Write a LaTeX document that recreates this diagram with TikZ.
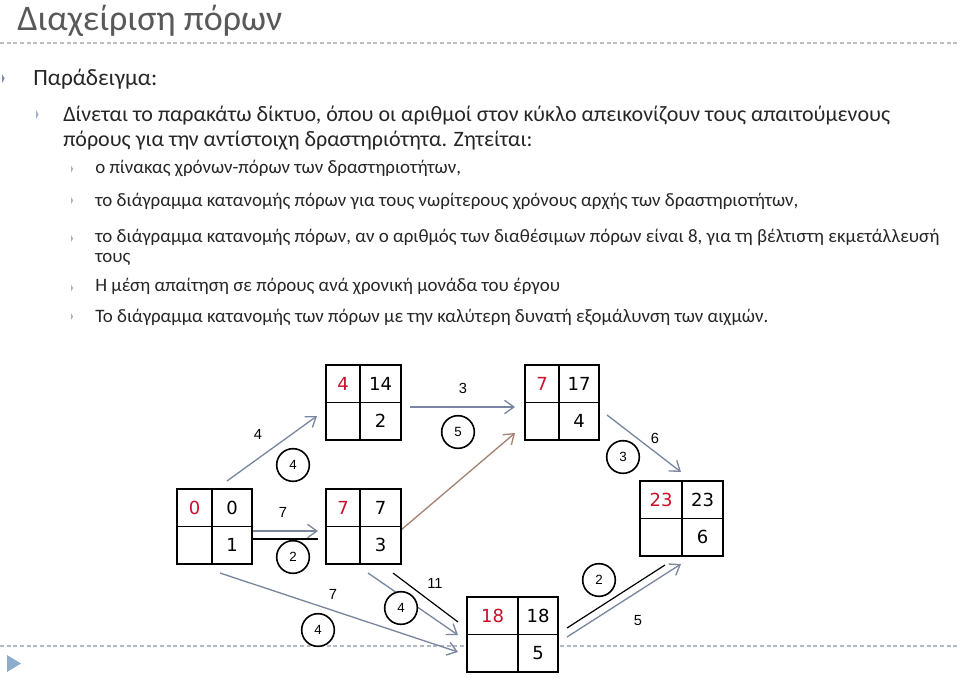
\documentclass[tikz,border=0pt]{standalone}
\usepackage{fontspec}
\setmainfont{Carlito}
\newfontfamily\numfont{DejaVu Sans}
\newfontfamily\lblfont{Liberation Sans}
\usetikzlibrary{arrows.meta}

\definecolor{txtgray}{RGB}{38,38,38}
\definecolor{titlegray}{RGB}{89,89,89}
\definecolor{esred}{RGB}{200,16,40}
\definecolor{arrgray}{RGB}{122,134,160}
\definecolor{arrbrown}{RGB}{165,130,115}
\definecolor{dashgray}{RGB}{190,190,190}
\definecolor{dashblue}{RGB}{178,186,200}
\definecolor{bulone}{RGB}{128,144,176}
\definecolor{bultwo}{RGB}{165,178,204}
\definecolor{bulthree}{RGB}{176,176,176}
\definecolor{navblue}{RGB}{140,172,206}

\tikzset{
  cell/.style={draw, line width=1.1pt, fill=white, inner sep=0pt, outer sep=0pt,
    minimum height=37.5*0.75pt, anchor=north west, font=\numfont\fontsize{13.5}{15}\selectfont},
  res/.style={circle, draw, line width=1.2pt, fill=white, inner sep=0pt,
    minimum size=24.5pt, font=\lblfont\fontsize{10}{11}\selectfont},
  lbl/.style={font=\lblfont\fontsize{11}{12}\selectfont},
  arr/.style={arrgray, line width=1pt, -{Straight Barb[length=7pt,width=10pt]}},
  tie/.style={black, line width=0.9pt},
  txt/.style={anchor=base west, inner sep=0pt, text=txtgray},
}

\newcommand{\actbox}[8]{%
  \node[cell, minimum width=#4*0.75pt] (#1es) at (#2,#3) {\textcolor{esred}{#6}};
  \node[cell, minimum width=#5*0.75pt] (#1ls) at (#1es.north east) {#7};
  \node[cell, minimum width=#4*0.75pt] (#1fl) at (#1es.south west) {};
  \node[cell, minimum width=#5*0.75pt] (#1d) at (#1es.south east) {#8};
}
\newcommand{\bul}[4]{\fill[#1] (#2,#3-#4) -- (#2+0.6*#4,#3) -- (#2,#3+#4) -- cycle;}

\begin{document}
\begin{tikzpicture}[x=0.75pt, y=-0.75pt]
\useasboundingbox (0,0) rectangle (960,678);

\node[txt, text=titlegray, font=\fontsize{27}{30}\selectfont] (title) at (17,31) {Διαχείριση πόρων};
\draw[dashgray, line width=1.2pt, dash pattern=on 3pt off 2pt] (0,42.7) -- (960,42.7);

\bul{bulone}{2}{78.5}{4.5}
\node[txt, font=\fontsize{17.5}{20}\selectfont] (ex) at (33,85) {Παράδειγμα:};

\bul{bultwo}{36}{114.5}{4.5}
\node[txt, font=\fontsize{16.5}{20}\selectfont] (given1) at (63,121) {Δίνεται το παρακάτω δίκτυο, όπου οι αριθμοί στον κύκλο απεικονίζουν τους απαιτούμενους};
\node[txt, font=\fontsize{16.5}{20}\selectfont] (given2) at (63,146) {πόρους για την αντίστοιχη δραστηριότητα. Ζητείται:};

\bul{bulthree}{71}{169}{3.5}
\node[txt, font=\fontsize{14.2}{17}\selectfont] (q1) at (95,173) {ο πίνακας χρόνων-πόρων των δραστηριοτήτων,};
\bul{bulthree}{71}{200.5}{3.5}
\node[txt, font=\fontsize{14.2}{17}\selectfont] (q2) at (95,206) {το διάγραμμα κατανομής πόρων για τους νωρίτερους χρόνους αρχής των δραστηριοτήτων,};
\bul{bulthree}{71}{238.5}{3.5}
\node[txt, font=\fontsize{14.2}{17}\selectfont] (q3) at (95,242) {το διάγραμμα κατανομής πόρων, αν ο αριθμός των διαθέσιμων πόρων είναι 8, για τη βέλτιστη εκμετάλλευσή};
\node[txt, font=\fontsize{14.2}{17}\selectfont] (q3b) at (95,262) {τους};
\bul{bulthree}{71}{288}{3.5}
\node[txt, font=\fontsize{14.2}{17}\selectfont] (q4) at (95,291) {Η μέση απαίτηση σε πόρους ανά χρονική μονάδα του έργου};
\bul{bulthree}{71}{316.5}{3.5}
\node[txt, font=\fontsize{14.2}{17}\selectfont] (q5) at (95,322) {Το διάγραμμα κατανομής των πόρων με την καλύτερη δυνατή εξομάλυνση των αιχμών.};

\draw[dashblue, line width=1.2pt, dash pattern=on 3pt off 2pt] (0,646) -- (960,646);
\fill[navblue] (7,655) -- (21,663.5) -- (7,672) -- cycle;

\coordinate (AB0) at (227,481);  \coordinate (AB1) at (317,416);
\coordinate (BD0) at (410,407);  \coordinate (BD1) at (515,407);
\coordinate (CD0) at (401,530);  \coordinate (CD1) at (515,433);
\coordinate (DE0) at (607,415);  \coordinate (DE1) at (681,472);
\coordinate (AC0) at (252,531);  \coordinate (AC1) at (318,531);
\coordinate (ACt0) at (252,539); \coordinate (ACt1) at (318,539);
\coordinate (AF0) at (220,573);  \coordinate (AF1) at (458,652);
\coordinate (CF0) at (368,573);  \coordinate (CF1) at (458,635);
\coordinate (CFt0) at (393,573); \coordinate (CFt1) at (458,622);
\coordinate (FE0) at (567,637);  \coordinate (FE1) at (681,564);
\coordinate (FEt0) at (567,628); \coordinate (FEt1) at (665,565);

\draw[arr] (AB0) -- (AB1);
\draw[arr] (BD0) -- (BD1);
\draw[arr, arrbrown] (CD0) -- (CD1);
\draw[arr] (DE0) -- (DE1);
\draw[arr] (AC0) -- (AC1);
\draw[tie] (ACt0) -- (ACt1);
\draw[arr] (AF0) -- (AF1);
\draw[arr] (CF0) -- (CF1);
\draw[tie] (CFt0) -- (CFt1);
\draw[arr] (FE0) -- (FE1);
\draw[tie] (FEt0) -- (FEt1);

\actbox{A}{177}{489}{35}{40}{0}{0}{1}
\actbox{B}{326}{365}{34}{41}{4}{14}{2}
\actbox{C}{326}{489}{34}{41}{7}{7}{3}
\actbox{D}{525}{365}{34}{40}{7}{17}{4}
\actbox{E}{640}{481}{42}{41}{23}{23}{6}
\actbox{F}{467}{597}{51}{40}{18}{18}{5}

\node[lbl] (lAB) at (258,434) {4};
\node[lbl] (lBD) at (463,388) {3};
\node[lbl] (lDE) at (655,438) {6};
\node[lbl] (lAC) at (283,512) {7};
\node[lbl] (lAF) at (333,594) {7};
\node[lbl] (lCF) at (435,583) {11};
\node[lbl] (lFE) at (638,621) {5};

\node[res] (rAB) at (293,465) {4};
\node[res] (rBD) at (458,432) {5};
\node[res] (rDE) at (623,457) {3};
\node[res] (rAC) at (293,557) {2};
\node[res] (rAF) at (318,630) {4};
\node[res] (rCF) at (401,608) {4};
\node[res] (rFE) at (599,580) {2};
\end{tikzpicture}
\end{document}
